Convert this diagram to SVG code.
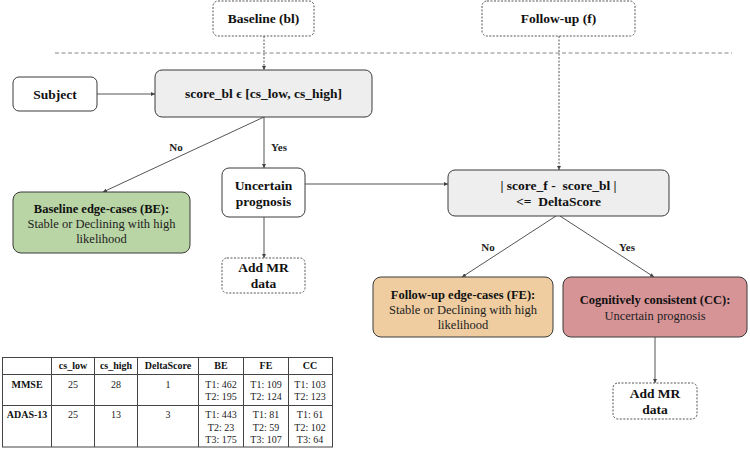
<svg xmlns="http://www.w3.org/2000/svg" width="750" height="450" viewBox="0 0 750 450">
<style>
.box{stroke:#3a3a3a;stroke-width:1}
.dot{fill:#fff;stroke:#555;stroke-width:1;stroke-dasharray:2,1.5}
.b{font-family:"Liberation Serif","Times New Roman",serif;font-weight:bold;font-size:13.5px;fill:#111;text-anchor:middle}
.t{font-family:"Liberation Serif","Times New Roman",serif;font-size:12.5px;fill:#222;text-anchor:middle}
.tb{font-family:"Liberation Serif","Times New Roman",serif;font-weight:bold;font-size:12.5px;fill:#111;text-anchor:middle}
.lbl{font-family:"Liberation Serif","Times New Roman",serif;font-weight:bold;font-size:11px;fill:#222;text-anchor:middle}
.c{stroke:#555;stroke-width:1;fill:none;marker-end:url(#ah)}
.cd{stroke:#555;stroke-width:1;fill:none;stroke-dasharray:2,1.5;marker-end:url(#ah)}
.tab{font-family:"Liberation Serif","Times New Roman",serif;font-size:10px;fill:#222;text-anchor:middle}
.tabb{font-family:"Liberation Serif","Times New Roman",serif;font-size:10px;font-weight:bold;fill:#111;text-anchor:middle}
.grid{stroke:#444;stroke-width:1;fill:none}
</style>
<defs>
<marker id="ah" viewBox="0 0 6 6" refX="6" refY="3" markerWidth="4" markerHeight="4" orient="auto">
<path d="M0,0 L6,3 L0,6 z" fill="#444"/>
</marker>
</defs>
<rect width="750" height="450" fill="#fff"/>
<line x1="55" y1="53" x2="732" y2="53" stroke="#888" stroke-width="1" stroke-dasharray="4,2.5"/>
<g id="connectors">
<line class="cd" x1="264" y1="36" x2="264" y2="70"/>
<line class="cd" x1="559" y1="36" x2="559" y2="170"/>
<line class="c" x1="97" y1="94" x2="155" y2="94"/>
<line class="c" x1="264" y1="117" x2="103" y2="192"/>
<line class="c" x1="264" y1="117" x2="264" y2="168"/>
<line class="c" x1="305" y1="184" x2="448" y2="184"/>
<line class="c" x1="264" y1="217" x2="264" y2="258"/>
<line class="c" x1="556" y1="216" x2="462" y2="277"/>
<line class="c" x1="560" y1="216" x2="654" y2="277"/>
<line class="c" x1="655" y1="337" x2="655" y2="383"/>
<text class="lbl" x="176" y="151">No</text>
<text class="lbl" x="279" y="151">Yes</text>
<text class="lbl" x="488" y="251">No</text>
<text class="lbl" x="627" y="251">Yes</text>
</g>
<g id="baseline">
<rect class="dot" x="213" y="1" width="101" height="35" rx="5"/>
<text class="b" x="263.5" y="23">Baseline (bl)</text>
</g>
<g id="followup">
<rect class="dot" x="482" y="1" width="153" height="35" rx="5"/>
<text class="b" x="558.5" y="23">Follow-up (f)</text>
</g>
<g id="subject">
<rect class="box" x="13" y="77" width="84" height="34" rx="6" fill="#fff"/>
<text class="b" x="55" y="99">Subject</text>
</g>
<g id="scorebl">
<rect class="box" x="155" y="70" width="217" height="47" rx="7" fill="#eeeeee"/>
<text class="b" x="263.5" y="98">score_bl ϵ [cs_low, cs_high]</text>
</g>
<g id="be">
<rect class="box" x="13" y="192" width="177" height="61" rx="8" fill="#b9d5a5"/>
<text class="tb" x="101.5" y="213">Baseline edge-cases (BE):</text>
<text class="t" x="101.5" y="228">Stable or Declining with high</text>
<text class="t" x="101.5" y="243">likelihood</text>
</g>
<g id="uncertain">
<rect class="box" x="222" y="168" width="83" height="49" rx="7" fill="#fff"/>
<text class="b" x="263.5" y="190">Uncertain</text>
<text class="b" x="263.5" y="206">prognosis</text>
</g>
<g id="addmr1">
<rect class="dot" x="222" y="258" width="83" height="35" rx="5"/>
<text class="b" x="263.5" y="272">Add MR</text>
<text class="b" x="263.5" y="288">data</text>
</g>
<g id="delta">
<rect class="box" x="448" y="170" width="221" height="46" rx="7" fill="#eeeeee"/>
<text class="b" x="558.5" y="190" xml:space="preserve">| score_f -  score_bl |</text>
<text class="b" x="558.5" y="206" xml:space="preserve">&lt;=  DeltaScore</text>
</g>
<g id="fe">
<rect class="box" x="373" y="277" width="180" height="60" rx="8" fill="#efcda0"/>
<text class="tb" x="463" y="299">Follow-up edge-cases (FE):</text>
<text class="t" x="463" y="314">Stable or Declining with high</text>
<text class="t" x="463" y="329">likelihood</text>
</g>
<g id="cc">
<rect class="box" x="563" y="277" width="184" height="60" rx="8" fill="#d79497"/>
<text class="tb" x="655" y="304">Cognitively consistent (CC):</text>
<text class="t" x="655" y="320">Uncertain prognosis</text>
</g>
<g id="addmr2">
<rect class="dot" x="613" y="383" width="84" height="36" rx="5"/>
<text class="b" x="655" y="398">Add MR</text>
<text class="b" x="655" y="414">data</text>
</g>
<g id="table">
<rect class="grid" x="2.5" y="357.5" width="330" height="89.5"/>
<line class="grid" x1="2.5" y1="374.5" x2="332.5" y2="374.5"/>
<line class="grid" x1="2.5" y1="405.5" x2="332.5" y2="405.5"/>
<line class="grid" x1="51.5" y1="357.5" x2="51.5" y2="447"/>
<line class="grid" x1="94.5" y1="357.5" x2="94.5" y2="447"/>
<line class="grid" x1="137.5" y1="357.5" x2="137.5" y2="447"/>
<line class="grid" x1="198.5" y1="357.5" x2="198.5" y2="447"/>
<line class="grid" x1="243.5" y1="357.5" x2="243.5" y2="447"/>
<line class="grid" x1="288.5" y1="357.5" x2="288.5" y2="447"/>
<text class="tabb" x="73" y="369">cs_low</text>
<text class="tabb" x="116" y="369">cs_high</text>
<text class="tabb" x="168" y="369">DeltaScore</text>
<text class="tabb" x="221" y="369">BE</text>
<text class="tabb" x="266" y="369">FE</text>
<text class="tabb" x="310" y="369">CC</text>
<text class="tabb" x="27" y="388">MMSE</text>
<text class="tab" x="73" y="388">25</text>
<text class="tab" x="116" y="388">28</text>
<text class="tab" x="168" y="388">1</text>
<text class="tab" x="221" y="388">T1: 462</text>
<text class="tab" x="221" y="400">T2: 195</text>
<text class="tab" x="266" y="388">T1: 109</text>
<text class="tab" x="266" y="400">T2: 124</text>
<text class="tab" x="310" y="388">T1: 103</text>
<text class="tab" x="310" y="400">T2: 123</text>
<text class="tabb" x="27" y="418">ADAS-13</text>
<text class="tab" x="73" y="418">25</text>
<text class="tab" x="116" y="418">13</text>
<text class="tab" x="168" y="418">3</text>
<text class="tab" x="221" y="418">T1: 443</text>
<text class="tab" x="221" y="431">T2: 23</text>
<text class="tab" x="221" y="443">T3: 175</text>
<text class="tab" x="266" y="418">T1: 81</text>
<text class="tab" x="266" y="431">T2: 59</text>
<text class="tab" x="266" y="443">T3: 107</text>
<text class="tab" x="310" y="418">T1: 61</text>
<text class="tab" x="310" y="431">T2: 102</text>
<text class="tab" x="310" y="443">T3: 64</text>
</g>
</svg>
